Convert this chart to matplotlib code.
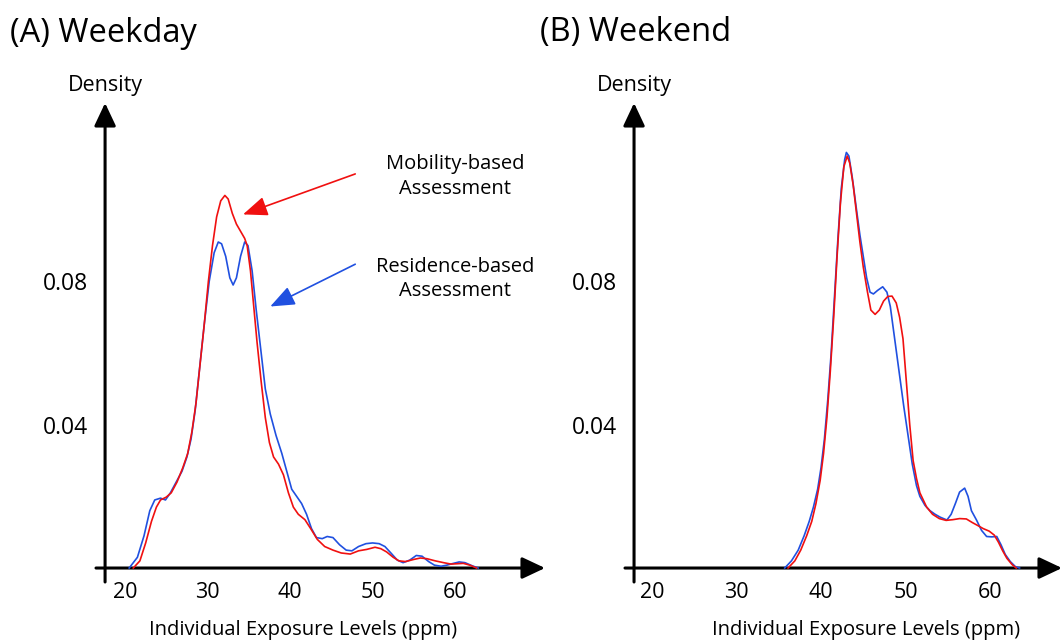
import matplotlib
matplotlib.use("Agg")
import matplotlib.pyplot as plt

plt.rcParams['font.family'] = ['Open Sans', 'DejaVu Sans']

# ---------------- data ----------------
xticks = [20, 30, 40, 50, 60]
yticks = [0.04, 0.08]
ytick_labels = ['0.04', '0.08']

# (A) Weekday - residence-based (blue)
wd_res_x = [20.5, 21.5, 22.3, 23.0, 23.6, 24.3, 24.9, 25.5, 26.2, 26.9, 27.5, 28.0, 28.5, 29.0,
            29.6, 30.2, 30.8, 31.3, 31.7, 32.2, 32.7, 33.1, 33.5, 34.0, 34.5, 34.9, 35.4, 35.9,
            36.4, 37.0, 37.6, 38.3, 39.0, 39.6, 40.2, 40.8, 41.4, 42.0, 42.6, 43.2, 43.9, 44.5,
            45.2, 46.0, 46.8, 47.5, 48.3, 49.2, 50.0, 50.8, 51.5, 52.3, 53.0, 53.7, 54.5, 55.3,
            56.0, 56.8, 57.5, 58.3, 59.0, 59.8, 60.5, 61.2, 62.0, 62.8]
wd_res_y = [0.0, 0.003, 0.009, 0.016, 0.019, 0.0195, 0.019, 0.021, 0.024, 0.027, 0.031, 0.036,
            0.044, 0.055, 0.068, 0.080, 0.088, 0.091, 0.0905, 0.087, 0.081, 0.079, 0.081, 0.087,
            0.091, 0.090, 0.083, 0.072, 0.062, 0.050, 0.043, 0.037, 0.032, 0.027, 0.022, 0.020,
            0.018, 0.015, 0.011, 0.0085, 0.0082, 0.0088, 0.0085, 0.0065, 0.005, 0.0048, 0.006,
            0.0068, 0.007, 0.0068, 0.006, 0.004, 0.0022, 0.0015, 0.0022, 0.0035, 0.0033, 0.0018,
            0.0008, 0.0005, 0.0008, 0.0013, 0.0017, 0.0015, 0.0007, 0.0]

# (A) Weekday - mobility-based (red)
wd_mob_x = [21.0, 21.8, 22.5, 23.2, 23.8, 24.3, 25.0, 25.6, 26.3, 27.0, 27.6, 28.1, 28.6, 29.1,
            29.6, 30.1, 30.6, 31.1, 31.6, 32.1, 32.5, 33.0, 33.5, 34.0, 34.5, 34.8, 35.2, 35.6,
            36.0, 36.5, 37.0, 37.5, 38.0, 38.6, 39.2, 39.8, 40.4, 41.0, 41.8, 42.5, 43.3, 44.2,
            45.2, 46.2, 47.3, 48.3, 49.3, 50.3, 51.0, 51.7, 52.5, 53.2, 54.0, 55.0, 55.8, 56.6,
            57.6, 58.6, 59.5, 60.3, 61.0, 61.8, 62.6]
wd_mob_y = [0.0, 0.002, 0.007, 0.013, 0.017, 0.019, 0.0198, 0.021, 0.024, 0.028, 0.032, 0.038,
            0.046, 0.057, 0.068, 0.080, 0.090, 0.098, 0.1025, 0.104, 0.103, 0.099, 0.096, 0.094,
            0.092, 0.090, 0.083, 0.073, 0.063, 0.052, 0.042, 0.035, 0.031, 0.029, 0.026, 0.021,
            0.017, 0.015, 0.0135, 0.011, 0.008, 0.006, 0.005, 0.0042, 0.0039, 0.0048, 0.0052,
            0.0058, 0.0054, 0.0045, 0.003, 0.002, 0.0018, 0.0024, 0.0028, 0.0026, 0.002, 0.0015,
            0.0011, 0.0012, 0.0013, 0.0008, 0.0]

# (B) Weekend - residence-based (blue)
we_res_x = [35.7, 36.5, 37.3, 38.0, 38.6, 39.1, 39.6, 40.0, 40.4, 40.8, 41.2, 41.6, 42.0, 42.4,
            42.8, 43.0, 43.3, 43.7, 44.2, 44.6, 45.0, 45.4, 45.8, 46.2, 46.7, 47.3, 47.8, 48.2,
            48.6, 49.0, 49.4, 49.8, 50.3, 50.8, 51.3, 51.7, 52.3, 52.9, 53.5, 54.1, 54.9, 55.4,
            55.9, 56.4, 57.0, 57.4, 57.8, 58.4, 59.0, 59.6, 60.2, 60.8, 61.3, 61.8, 62.4, 63.0,
            63.5]
we_res_y = [0.0, 0.002, 0.005, 0.009, 0.013, 0.017, 0.022, 0.028, 0.036, 0.047, 0.060, 0.076,
            0.092, 0.106, 0.114, 0.116, 0.115, 0.109, 0.100, 0.093, 0.087, 0.081, 0.077, 0.0765,
            0.0775, 0.0785, 0.077, 0.073, 0.066, 0.059, 0.052, 0.045, 0.037, 0.029, 0.023, 0.020,
            0.0175, 0.016, 0.015, 0.0142, 0.0134, 0.015, 0.018, 0.0212, 0.0223, 0.020, 0.016,
            0.0134, 0.0105, 0.0088, 0.0087, 0.0088, 0.0065, 0.0038, 0.0018, 0.0004, 0.0]

# (B) Weekend - mobility-based (red)
we_mob_x = [36.1, 36.9, 37.6, 38.3, 38.9, 39.4, 39.9, 40.3, 40.7, 41.1, 41.5, 41.9, 42.3, 42.7,
            43.1, 43.4, 43.8, 44.2, 44.6, 45.0, 45.5, 45.9, 46.4, 46.9, 47.4, 47.9, 48.4, 48.9,
            49.3, 49.7, 50.1, 50.5, 50.9, 51.3, 51.7, 52.5, 53.2, 54.0, 54.8, 55.6, 56.4, 57.2,
            57.9, 58.6, 59.2, 59.9, 60.5, 61.0, 61.5, 62.0, 62.6, 63.1]
we_mob_y = [0.0, 0.002, 0.005, 0.009, 0.013, 0.018, 0.0245, 0.032, 0.042, 0.055, 0.070, 0.087,
            0.102, 0.112, 0.115, 0.113, 0.107, 0.099, 0.091, 0.084, 0.077, 0.072, 0.0708, 0.072,
            0.0745, 0.0758, 0.0759, 0.074, 0.070, 0.064, 0.052, 0.040, 0.030, 0.025, 0.021,
            0.017, 0.015, 0.0138, 0.0133, 0.0135, 0.0138, 0.0137, 0.0127, 0.0118, 0.011, 0.0103,
            0.0092, 0.0072, 0.0048, 0.0027, 0.001, 0.0]

BLUE = '#2050e0'
RED = '#f01010'

W, H = 1064, 641
fig = plt.figure(figsize=(W / 100, H / 100), dpi=100)


def make_panel(px_left, px_right, px_top, px_bottom, xlim, ylim, yaxis_x):
    ax = fig.add_axes([px_left / W, 1 - px_bottom / H,
                       (px_right - px_left) / W, (px_bottom - px_top) / H])
    ax.set_xlim(*xlim)
    ax.set_ylim(*ylim)
    for s in ax.spines.values():
        s.set_visible(False)
    ax.set_xticks(xticks)
    ax.set_xticklabels([str(t) for t in xticks])
    ax.set_yticks(yticks)
    ax.set_yticklabels(ytick_labels)
    ax.tick_params(axis='x', length=0, pad=0, labelsize=15.5)
    ax.tick_params(axis='y', length=0, pad=6, labelsize=16.5)
    ax.patch.set_alpha(0)
    arrow = dict(arrowstyle='-|>,head_length=0.7,head_width=0.33', lw=2.2,
                 color='black', shrinkA=0, shrinkB=0, mutation_scale=20)
    ax.annotate('', xy=(xlim[1], 0), xytext=(xlim[0], 0), arrowprops=arrow,
                annotation_clip=False)
    ax.annotate('', xy=(yaxis_x, ylim[1]), xytext=(yaxis_x, ylim[0]), arrowprops=arrow,
                annotation_clip=False)
    return ax


ylim = (-0.0039, 0.1298)
axA = make_panel(96, 545, 103, 582, (16.48, 70.9), ylim, 17.58)
axB = make_panel(625, 1062, 103, 582, (16.80, 68.52), ylim, 17.87)

axA.plot(wd_res_x, wd_res_y, color=BLUE, lw=1.2, zorder=3)
axA.plot(wd_mob_x, wd_mob_y, color=RED, lw=1.2, zorder=4)
axB.plot(we_res_x, we_res_y, color=BLUE, lw=1.2, zorder=3)
axB.plot(we_mob_x, we_mob_y, color=RED, lw=1.2, zorder=4)

# annotations (panel A)
ann_arrow = dict(arrowstyle='-|>,head_length=0.75,head_width=0.3', lw=1.2,
                 shrinkA=0, shrinkB=0, mutation_scale=20)
axA.annotate('', xy=(34.3, 0.0987), xytext=(47.9, 0.110),
             arrowprops=dict(color=RED, **ann_arrow))
axA.annotate('', xy=(37.6, 0.073), xytext=(47.9, 0.0848),
             arrowprops=dict(color=BLUE, **ann_arrow))
axA.text(60.0, 0.1093, 'Mobility-based\nAssessment', ha='center', va='center',
         fontsize=14.5, linespacing=1.3)
axA.text(60.0, 0.0807, 'Residence-based\nAssessment', ha='center', va='center',
         fontsize=14.5, linespacing=1.3)

# titles and axis labels
fig.text(10 / W, 1 - 33 / H, '(A) Weekday', fontsize=23.5, ha='left', va='center')
fig.text(540 / W, 1 - 33 / H, '(B) Weekend', fontsize=23.5, ha='left', va='center')
fig.text(105 / W, 1 - 86 / H, 'Density', fontsize=15.5, ha='center', va='center')
fig.text(634 / W, 1 - 86 / H, 'Density', fontsize=15.5, ha='center', va='center')
fig.text(303 / W, 1 - 630 / H, 'Individual Exposure Levels (ppm)', fontsize=14.5,
         ha='center', va='center')
fig.text(866 / W, 1 - 630 / H, 'Individual Exposure Levels (ppm)', fontsize=14.5,
         ha='center', va='center')

fig.savefig('out.png', dpi=100, facecolor='white')
